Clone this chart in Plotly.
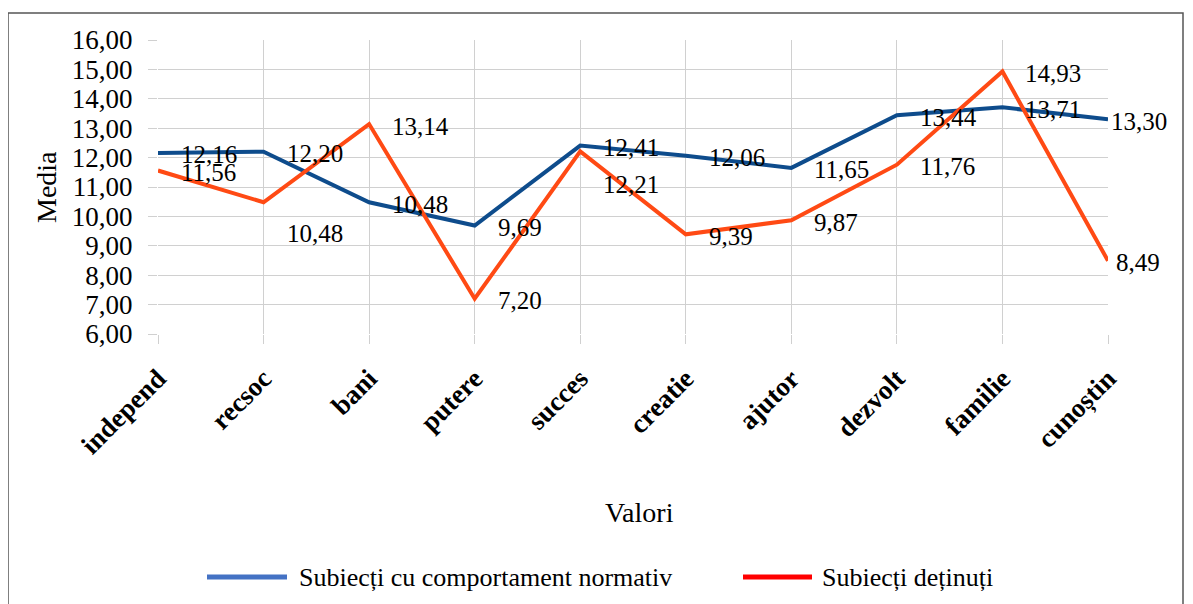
import plotly.graph_objects as go

categories = ["independ", "recsoc", "bani", "putere", "succes", "creatie", "ajutor", "dezvolt", "familie", "cunoștin"]
normativ = [12.16, 12.20, 10.48, 9.69, 12.41, 12.06, 11.65, 13.44, 13.71, 13.30]
detinuti = [11.56, 10.48, 13.14, 7.20, 12.21, 9.39, 9.87, 11.76, 14.93, 8.49]
y_ticks = [6, 7, 8, 9, 10, 11, 12, 13, 14, 15, 16]
series_names = ["Subiecți cu comportament normativ", "Subiecți deținuți"]

BLUE = "#0E4C8C"
RED = "#FF4A14"
LEG_BLUE = "#4472C4"
LEG_RED = "#FF0000"
FONT = "Times New Roman, Liberation Serif, DejaVu Serif, serif"

# page body has an 8px offset; target plot area in absolute pixels: x 158..1108, y 40..334
OFF = 8
PL, PR, PT, PB = 158, 1108, 40, 334


def fmt(v):
    return f"{v:.2f}".replace(".", ",")


def px(xp):
    return (xp - PL) / (PR - PL)


def py(yp):
    return (PB - yp) / (PB - PT)


fig = go.Figure()
fig.add_trace(go.Scatter(x=list(range(len(categories))), y=normativ, mode="lines",
                         line=dict(color=BLUE, width=4), name=series_names[0], showlegend=False))
fig.add_trace(go.Scatter(x=list(range(len(categories))), y=detinuti, mode="lines",
                         line=dict(color=RED, width=4), name=series_names[1], showlegend=False))

# data labels (label offsets in pixels)
last = len(categories) - 1
blue_dx = {last: 1}
red_dx = {last: 6}
red_dy = {1: -31, 4: -33}
for i, v in enumerate(normativ):
    fig.add_annotation(x=i, y=v, text=fmt(v), showarrow=False, xanchor="left", yanchor="middle",
                       xshift=blue_dx.get(i, 21), yshift=-2, font=dict(family=FONT, size=25, color="black"))
for i, v in enumerate(detinuti):
    fig.add_annotation(x=i, y=v, text=fmt(v), showarrow=False, xanchor="left", yanchor="middle",
                       xshift=red_dx.get(i, 21), yshift=red_dy.get(i, -2),
                       font=dict(family=FONT, size=25, color="black"))

# axis titles
fig.add_annotation(xref="paper", yref="paper", x=px(46), y=py(187), text="Media", textangle=-90,
                   xanchor="center", yanchor="middle",
                   showarrow=False, font=dict(family=FONT, size=28, color="black"))
fig.add_annotation(xref="paper", yref="paper", x=px(639), y=py(512), text="Valori",
                   xanchor="center", yanchor="middle",
                   showarrow=False, font=dict(family=FONT, size=28, color="black"))

# manual legend
leg_y = 577
fig.add_shape(type="line", xref="paper", yref="paper", x0=px(207), x1=px(287), y0=py(leg_y), y1=py(leg_y),
              line=dict(color=LEG_BLUE, width=5))
fig.add_annotation(xref="paper", yref="paper", x=px(297), y=py(leg_y), text=series_names[0], showarrow=False,
                   xanchor="left", yanchor="middle", font=dict(family=FONT, size=26, color="black"))
fig.add_shape(type="line", xref="paper", yref="paper", x0=px(743), x1=px(812), y0=py(leg_y), y1=py(leg_y),
              line=dict(color=LEG_RED, width=5))
fig.add_annotation(xref="paper", yref="paper", x=px(820), y=py(leg_y), text=series_names[1], showarrow=False,
                   xanchor="left", yanchor="middle", font=dict(family=FONT, size=26, color="black"))

# outer border
fig.add_shape(type="rect", xref="paper", yref="paper", x0=px(8), x1=px(1183), y0=py(640), y1=py(13),
              line=dict(color="#555555", width=1.5), fillcolor="rgba(0,0,0,0)", layer="below")

fig.update_xaxes(tickmode="array", tickvals=list(range(len(categories))), ticktext=categories,
                 range=[0, len(categories) - 1], tickangle=-45, showgrid=True, gridcolor="#D0D0D0", gridwidth=1,
                 ticks="outside", ticklen=9, tickcolor="#D0D0D0", zeroline=False, showline=False,
                 ticklabelstandoff=8,
                 tickfont=dict(family=FONT, size=27, color="black", weight="bold"))
fig.update_yaxes(range=[6, 16], tickvals=y_ticks, ticktext=[fmt(v) for v in y_ticks],
                 showgrid=True, gridcolor="#D0D0D0", gridwidth=1, ticks="outside", ticklen=9,
                 tickcolor="#D0D0D0", zeroline=False, showline=False, ticklabelstandoff=10,
                 tickfont=dict(family=FONT, size=27, color="black"))

fig.update_layout(width=1193, height=604,
                  margin=dict(l=PL - OFF, r=1193 + OFF - PR, t=PT - OFF, b=604 + OFF - PB),
                  paper_bgcolor="white", plot_bgcolor="white", showlegend=False,
                  font=dict(family=FONT))

fig.write_html("out.html")
